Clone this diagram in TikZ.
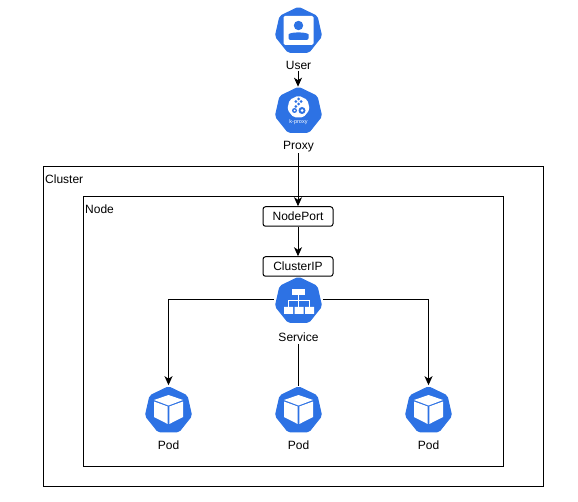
\documentclass[tikz,border=0pt]{standalone}
\usepackage{fontspec}
\setmainfont{Liberation Sans}
\usetikzlibrary{shapes.geometric,arrows.meta}
\definecolor{kblue}{RGB}{45,114,228}
\tikzset{
  hept/.style={regular polygon,regular polygon sides=7,minimum size=47.5pt,inner sep=0pt,fill=kblue,draw=kblue,line width=1pt,rounded corners=2pt},
  lab/.style={font=\fontsize{12}{14}\selectfont,inner sep=0pt,text=black},
  cont/.style={draw=black,line width=1pt,fill=none},
  portbox/.style={draw=black,line width=1pt,rounded corners=2.5pt,fill=white,minimum width=70pt,minimum height=19.5pt,inner sep=0pt,font=\fontsize{12}{14}\selectfont},
  conn/.style={draw=black,line width=1pt,-{Stealth[length=9pt,width=8pt,inset=2.5pt]}},
  plain/.style={draw=black,line width=1pt},
  ico/.style={fill=white,draw=none},
  icoline/.style={draw=white,line width=1pt}
}
\begin{document}
\begin{tikzpicture}[x=1pt,y=-1pt]
\useasboundingbox[fill=white] (0,0) rectangle (578,502);
\node[cont,draw,minimum width=500pt,minimum height=320pt,inner sep=0pt,anchor=north west] (cluster) at (43,166) {};
\node[cont,draw,minimum width=420pt,minimum height=270pt,inner sep=0pt,anchor=north west] (nodebox) at (83,196) {};
\node[lab,anchor=base west] (clusterlab) at (45,184) {Cluster};
\node[lab,anchor=base west] (nodelab) at (85,214) {Node};
\node[hept] (user) at (298.5,31) {};
\node[hept] (proxy) at (298.5,111) {};
\node[hept] (service) at (298.5,301) {};
\node[hept] (pod1) at (168.5,410.5) {};
\node[hept] (pod2) at (298.5,410.5) {};
\node[hept] (pod3) at (428.5,410.5) {};
\node[lab,anchor=base] (userlab) at (298.5,69.5) {User};
\node[lab,anchor=base] (proxylab) at (298.5,149.5) {Proxy};
\node[lab,anchor=base] (servicelab) at (298.5,341.5) {Service};
\node[lab,anchor=base] (pod1lab) at (168.5,449.5) {Pod};
\node[lab,anchor=base] (pod2lab) at (298.5,449.5) {Pod};
\node[lab,anchor=base] (pod3lab) at (428.5,449.5) {Pod};
\node[portbox] (nodeport) at (298,216.5) {NodePort};
\node[portbox] (clusterip) at (298,266.5) {ClusterIP};
% user icon
\fill[ico,rounded corners=1.5pt] (283.5,16) rectangle (313.5,45);
\fill[kblue] (298.5,25.5) circle (4.7pt);
\fill[kblue,rounded corners=2pt] (288.5,40) -- (288.5,36.5) .. controls (288.5,33.5) and (293,32.5) .. (298.5,32.5) .. controls (304,32.5) and (308.5,33.5) .. (308.5,36.5) -- (308.5,40) -- cycle;
% proxy icon
\node[regular polygon,regular polygon sides=7,minimum size=23pt,inner sep=0pt,fill=white,rounded corners=2pt] (proxyback) at (298.5,107) {};
\fill[kblue] (298.5,99) circle (1.5pt) (295.8,101.5) circle (1.5pt) (301.2,101.5) circle (1.5pt) (298.5,104) circle (1.5pt) (295.8,106.5) circle (1.5pt);
\fill[kblue] (294.5,110.5) circle (2.5pt) (302,110.5) circle (3.5pt);
\fill[white] (302,110.5) circle (1.5pt) (294.5,110.5) circle (1pt);
\node[inner sep=0pt,text=white,font=\fontsize{5.5}{6}\selectfont] (proxytxt) at (298.5,122) {k-proxy};
% service icon
\fill[ico] (291.5,289) rectangle (305,295);
\draw[icoline] (298.5,295) -- (298.5,307);
\draw[icoline] (288,307) -- (288,300.5) -- (309.5,300.5) -- (309.5,307);
\fill[ico] (284,307) rectangle (293,314) (294.5,307) rectangle (303.5,314) (305,307) rectangle (314,314);
% pod icons
\foreach \cx in {168.5,298.5,428.5}{
  \fill[ico] (\cx-14.5,400) -- (\cx,395) -- (\cx+14.5,400) -- (\cx,405.5) -- cycle;
  \fill[ico] (\cx-14.5,401.5) -- (\cx-0.8,406.5) -- (\cx-0.8,424) -- (\cx-14.5,417) -- cycle;
  \fill[ico] (\cx+14.5,401.5) -- (\cx+0.8,406.5) -- (\cx+0.8,424) -- (\cx+14.5,417) -- cycle;
}
% connectors
\draw[conn] (userlab.south -| nodeport.south) ++(0,1) -- (proxy.north -| nodeport.south);
\draw[conn] (proxylab.south -| nodeport.south) ++(0,1) -- (nodeport.north);
\draw[conn] (nodeport.south) -- (clusterip.north);
\draw[conn,shorten >=1pt] (service.west |- 0,300) ++(-2,0) -| (pod1.north);
\draw[conn,shorten >=1pt] (service.east |- 0,300) ++(2,0) -| (pod3.north);
\draw[plain] (servicelab.south -| nodeport.south) ++(0,2) -- (pod2.north -| nodeport.south);
\end{tikzpicture}
\end{document}
